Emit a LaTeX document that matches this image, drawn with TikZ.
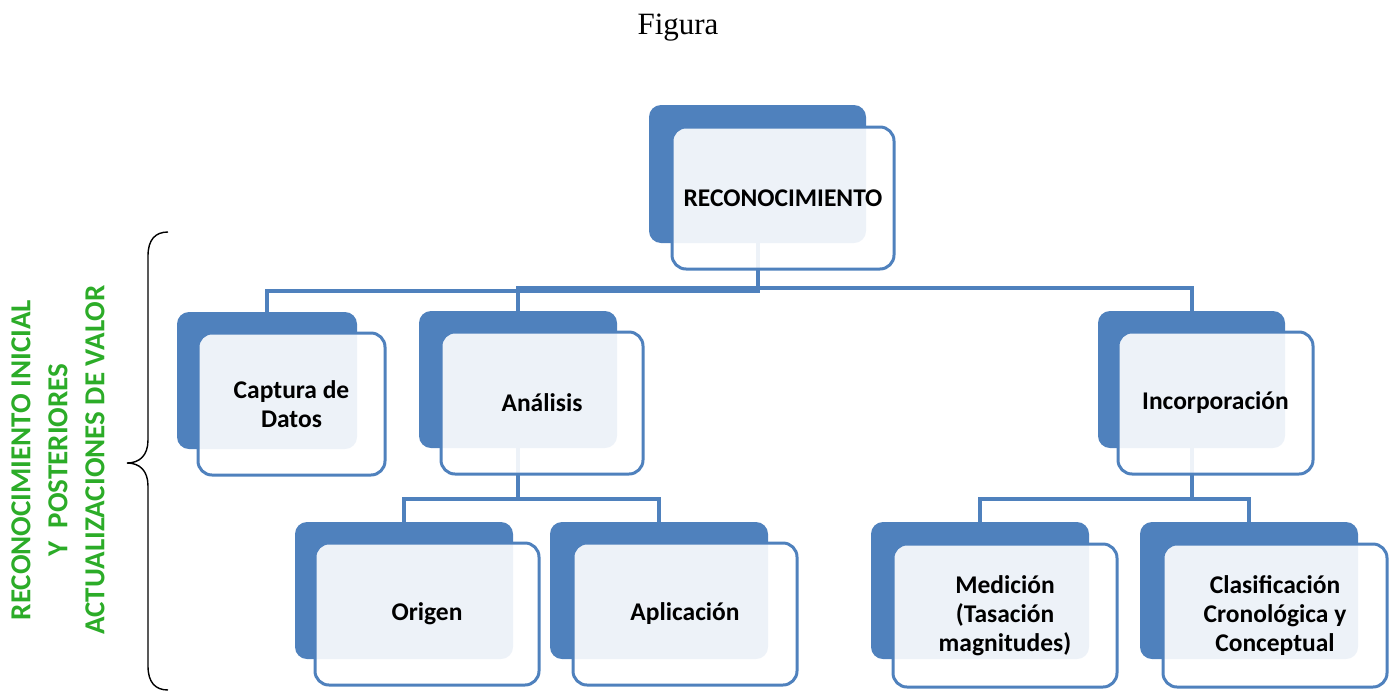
\documentclass[tikz,border=0pt]{standalone}
\usepackage{fontspec}
\setmainfont{Liberation Serif}
\newfontfamily\boxfont{Carlito}
\definecolor{sablue}{RGB}{79,129,189}
\definecolor{sidegreen}{RGB}{44,172,40}
\pgfdeclarelayer{links}
\pgfsetlayers{links,main}
\begin{document}
\begin{tikzpicture}[x=1pt,y=1pt,
  backbox/.style={draw=none, fill=sablue, rounded corners=12pt, anchor=north west, inner sep=0pt, outer sep=0pt},
  frontbox/.style={draw=sablue, line width=3pt, fill=white, fill opacity=0.9, text opacity=1,
    rounded corners=14pt, anchor=north west, inner sep=0pt, outer sep=0pt, align=center,
    text=black, font=\boxfont\bfseries\fontsize{25.5}{29}\selectfont},
  link/.style={draw=sablue, line width=4pt},
  bracepath/.style={draw=black, line width=1.4pt}
]
\useasboundingbox (0,0) rectangle (1394,-691);

% title
\node[font=\fontsize{31}{36}\selectfont] (title) at (678,-28) {Figura};

% back panels
\node[backbox, minimum width=217pt, minimum height=138pt] (topB) at (649,-105) {};
\node[backbox, minimum width=180pt, minimum height=137pt] (capB) at (177,-312) {};
\node[backbox, minimum width=198pt, minimum height=137pt] (anaB) at (419,-311) {};
\node[backbox, minimum width=187pt, minimum height=137pt] (incB) at (1098,-311) {};
\node[backbox, minimum width=218pt, minimum height=137pt] (oriB) at (295,-522) {};
\node[backbox, minimum width=218pt, minimum height=137pt] (aplB) at (550,-522) {};
\node[backbox, minimum width=218pt, minimum height=137pt] (medB) at (871,-522) {};
\node[backbox, minimum width=218pt, minimum height=137pt] (claB) at (1140,-522) {};

% connectors, kept behind every panel
\begin{pgfonlayer}{links}
\draw[link] (topB.south) |- (267,-291) -- (capB.north);
\draw[link] (topB.south) |- (anaB.north |- 0,-288) -- (anaB.north);
\draw[link] (topB.south) |- (incB.north |- 0,-288) -- (incB.north);
\draw[link] (anaB.south) |- (oriB.north |- 0,-499) -- (oriB.north);
\draw[link] (anaB.south) |- (aplB.north |- 0,-499) -- (aplB.north);
\draw[link] (incB.south) |- (medB.north |- 0,-499) -- (medB.north);
\draw[link] (incB.south) |- (claB.north |- 0,-499) -- (claB.north);
\end{pgfonlayer}

% translucent front panels with labels
\node[frontbox, minimum width=222pt, minimum height=142pt] (top) at (672,-127) {RECONOCIMIENTO};
\node[frontbox, minimum width=187pt, minimum height=142pt] (cap) at (198,-333) {Captura de\\Datos};
\node[frontbox, minimum width=202pt, minimum height=142pt] (ana) at (441,-332) {Análisis};
\node[frontbox, minimum width=195pt, minimum height=142pt] (inc) at (1118,-332) {Incorporación};
\node[frontbox, minimum width=224pt, minimum height=142pt] (ori) at (315,-543) {Origen};
\node[frontbox, minimum width=224pt, minimum height=142pt] (apl) at (573,-543) {Aplicación};
\node[frontbox, minimum width=224pt, minimum height=143pt] (med) at (893,-544) {Medición\\(Tasación\\magnitudes)};
\node[frontbox, minimum width=224pt, minimum height=143pt] (cla) at (1163,-544) {Clasificación\\Cronológica y\\Conceptual};

% left brace
\coordinate (bt) at (168,-232);
\coordinate (bm) at (127,-463);
\coordinate (bb) at (168,-690);
\draw[bracepath] (bt) .. controls (155,-232) and (148,-240) .. (148,-256)
  -- (148,-440) .. controls (148,-455) and (140,-463) .. (bm)
  .. controls (140,-463) and (148,-471) .. (148,-486)
  -- (148,-666) .. controls (148,-682) and (155,-690) .. (bb);

% side caption
\node[rotate=90, align=center, text=sidegreen, font=\boxfont\bfseries\fontsize{29}{37}\selectfont] (side) at (58,-460)
  {RECONOCIMIENTO INICIAL\\Y\ \ POSTERIORES\\ACTUALIZACIONES DE VALOR};
\end{tikzpicture}
\end{document}
